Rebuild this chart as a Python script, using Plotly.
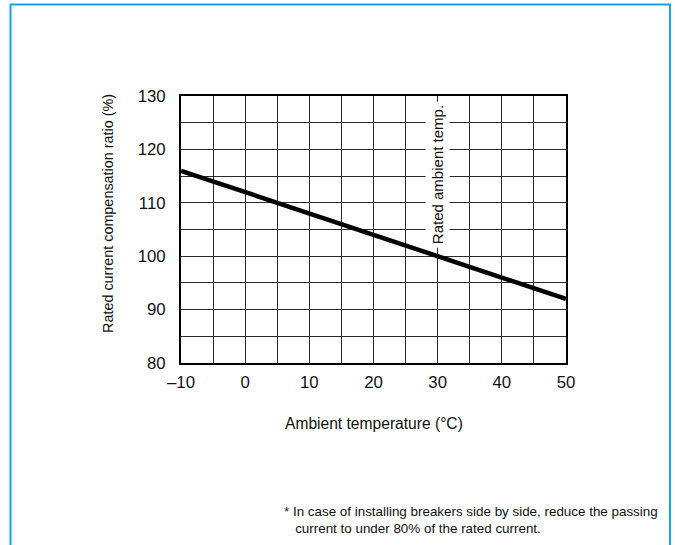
import plotly.graph_objects as go

# Data
temps = [-10, 30, 50]
ratio = [116, 100, 92]
x_tickvals = [-10, 0, 10, 20, 30, 40, 50]
x_ticktext = ["\u201310", "0", "10", "20", "30", "40", "50"]
y_tickvals = [80, 90, 100, 110, 120, 130]
y_ticktext = ["80", "90", "100", "110", "120", "130"]
rated_temp = 30

FONT = "Liberation Sans, Arial, Helvetica, sans-serif"

W, H = 675, 545
L, R, T, B = 181, 109, 96, 182
pw, ph = W - L - R, H - T - B

def px(x):
    return (x - L) / pw

def py(y):
    return (H - B - y) / ph

fig = go.Figure()
fig.add_trace(go.Scatter(
    x=temps, y=ratio, mode="lines",
    line=dict(color="black", width=4.5),
    showlegend=False, hoverinfo="skip", cliponaxis=False,
))

GRID = "#2a2a2a"
for ax, rng, tv, tt, t0, stand in (
    ("x", [-10, 50], x_tickvals, x_ticktext, -10, 3),
    ("y", [80, 130], y_tickvals, y_ticktext, 80, 10),
):
    upd = dict(
        range=rng, tickmode="array", tickvals=tv, ticktext=tt,
        showline=True, mirror=True, linecolor="black", linewidth=2,
        zeroline=False, ticks="", ticklabelstandoff=stand,
        tickfont=dict(family=FONT, size=16.8, color="#111"),
        showgrid=True, gridcolor=GRID, gridwidth=1.2,
        minor=dict(dtick=5, tick0=t0, showgrid=True, gridcolor=GRID, gridwidth=1.2),
    )
    if ax == "x":
        fig.update_xaxes(**upd)
    else:
        fig.update_yaxes(**upd)

annotations = [
    dict(text="Rated ambient temp.", x=rated_temp, y=115.3, xref="x", yref="y",
         xanchor="center", yanchor="middle",
         textangle=-90, showarrow=False, bgcolor="white", borderpad=3,
         font=dict(family=FONT, size=15, color="#111")),
    dict(text="Ambient temperature (\u00b0C)", x=0.5, y=py(423), xref="paper", yref="paper",
         xanchor="center", yanchor="middle",
         showarrow=False, font=dict(family=FONT, size=15.6, color="#111")),
    dict(text="Rated current compensation ratio (%)", x=px(108), y=py(214),
         xref="paper", yref="paper", xanchor="center", yanchor="middle",
         textangle=-90, showarrow=False,
         font=dict(family=FONT, size=14.4, color="#111")),
    dict(text="* In case of installing breakers side by side, reduce the passing<br>"
              "\u00a0\u00a0\u00a0current to under 80% of the rated current.",
         x=px(282), y=py(520), xref="paper", yref="paper", xanchor="left",
         yanchor="middle", align="left", showarrow=False,
         font=dict(family=FONT, size=13.4, color="#111")),
]

fig.update_layout(
    width=W, height=H, autosize=False,
    margin=dict(l=L, r=R, t=T, b=B, pad=0),
    plot_bgcolor="white", paper_bgcolor="white",
    annotations=annotations,
    shapes=[dict(type="rect", xref="paper", yref="paper",
                 x0=px(10.5), x1=px(670), y0=py(560), y1=py(4.5),
                 line=dict(color="#12a6e6", width=2), layer="above")],
)

fig.write_html(
    "out.html",
    config={"displayModeBar": False},
    post_script="document.body.style.margin='0';document.body.style.overflow='hidden';",
)
